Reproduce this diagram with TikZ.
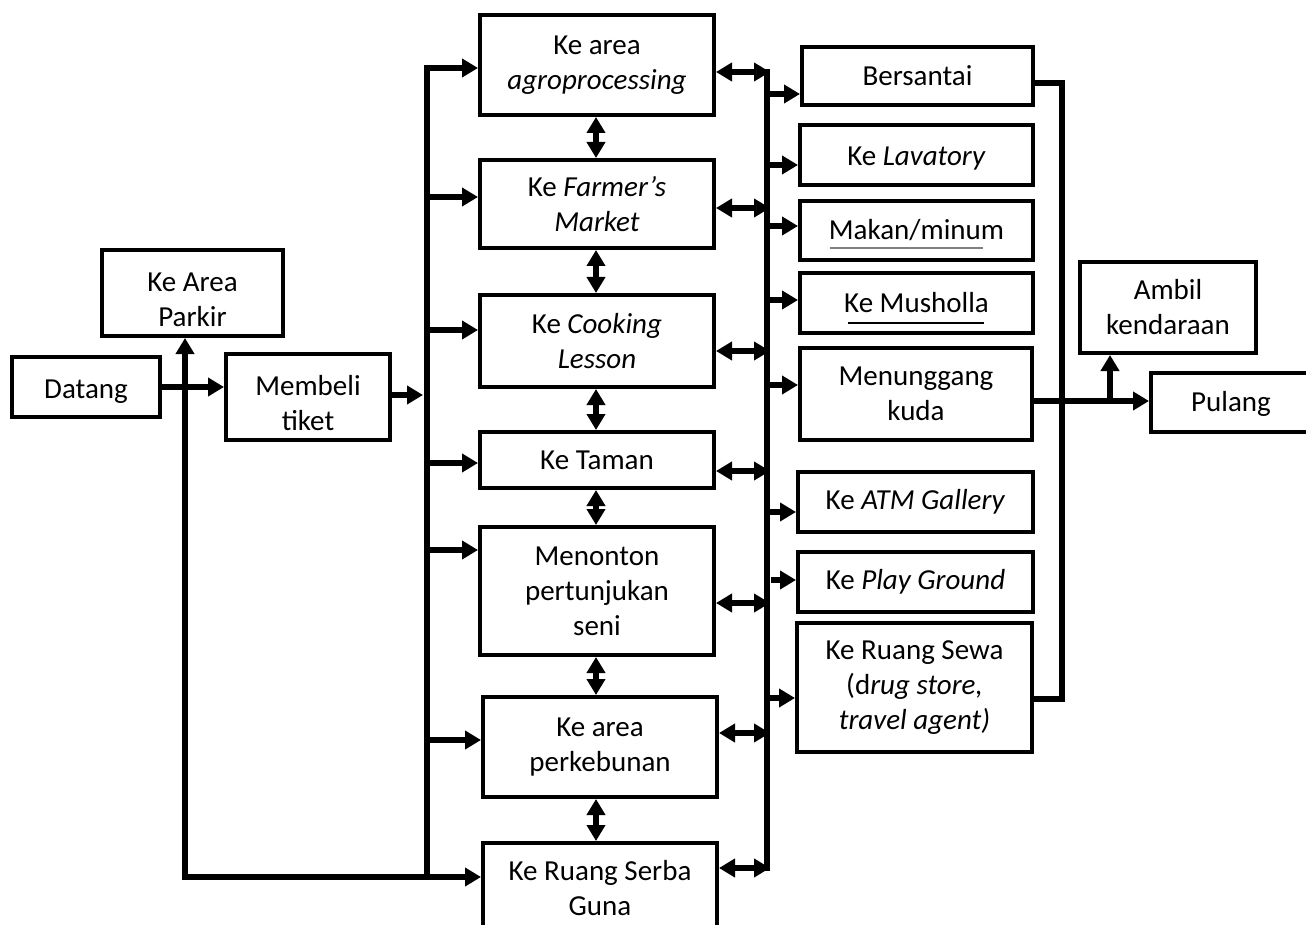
\documentclass[tikz,border=0pt]{standalone}
\usepackage{fontspec}
\setmainfont{Carlito}
\usetikzlibrary{arrows.meta}
\tikzset{
  box/.style={draw, line width=4pt, align=center, inner sep=0pt,
    font=\fontsize{29}{35}\selectfont},
  arr/.style={line width=5.2pt, -{Triangle[length=16pt,width=18pt]}},
  dbl/.style={line width=5.2pt, {Triangle[length=16pt,width=18pt]}-{Triangle[length=16pt,width=18pt]}},
  bus/.style={line width=5.2pt, line cap=rect},
  uline/.style={line width=1.2pt}
}
\newcommand{\dn}[1]{\rule{0pt}{#1}}
\begin{document}
\begin{tikzpicture}[x=1pt,y=-1pt]
\clip (0,0) rectangle (1306,925);
\fill[white] (0,0) rectangle (1306,925);
% left
\node[box, minimum width=148pt, minimum height=60pt] (datang) at (86,387) {\dn{27pt}Datang};
\node[box, minimum width=181pt, minimum height=86pt] (parkir) at (192.5,293) {\dn{33pt}Ke Area\\Parkir};
\node[box, minimum width=164pt, minimum height=86pt] (membeli) at (308,397) {\dn{33pt}Membeli\\tiket};
% middle column
\node[box, minimum width=234pt, minimum height=100pt] (agro) at (597,65) {Ke area\\\textit{agroprocessing}};
\node[box, minimum width=234pt, minimum height=88pt] (farmer) at (597,204) {Ke \textit{Farmer’s}\\\textit{Market}};
\node[box, minimum width=234pt, minimum height=92pt] (cooking) at (597,341) {Ke \textit{Cooking}\\\textit{Lesson}};
\node[box, minimum width=234pt, minimum height=56pt] (taman) at (597,460) {Ke Taman};
\node[box, minimum width=234pt, minimum height=128pt] (menonton) at (597,591) {Menonton\\pertunjukan\\seni};
\node[box, minimum width=234pt, minimum height=100pt] (kebun) at (600,747) {Ke area\\perkebunan};
\node[box, minimum width=234pt, minimum height=130pt, anchor=north] (serba) at (600,841) {};
\node[font=\fontsize{29}{35}\selectfont, align=center] (serbatxt) at (600,888) {Ke Ruang Serba\\Guna};
% right column
\node[box, minimum width=231pt, minimum height=58pt] (santai) at (917.5,76) {Bersantai};
\node[box, minimum width=233pt, minimum height=60pt] (lav) at (916.5,155) {\dn{25pt}Ke \textit{Lavatory}};
\node[box, minimum width=233pt, minimum height=59pt] (makan) at (916.5,230.5) {Makan/minum};
\node[box, minimum width=233pt, minimum height=60pt] (mushola) at (916.5,303) {Ke Musholla};
\node[box, minimum width=232pt, minimum height=92pt] (kuda) at (916,394) {Menunggang\\kuda};
\node[box, minimum width=235pt, minimum height=60pt] (atm) at (915.5,502) {Ke \textit{ATM Gallery}};
\node[box, minimum width=235pt, minimum height=60pt] (play) at (915.5,582) {Ke \textit{Play Ground}};
\node[box, minimum width=235pt, minimum height=129pt] (sewa) at (914.5,687.5) {Ke Ruang Sewa\\(d\textit{rug store,}\\\textit{travel agent)}};
% far right
\node[box, minimum width=176pt, minimum height=91pt] (ambil) at (1168,307.5) {Ambil\\kendaraan};
\node[box, minimum width=200pt, minimum height=59pt, anchor=west] (pulang) at (1149,402.5) {};
\node[font=\fontsize{29}{35}\selectfont] (pulangtxt) at (1231,404) {Pulang};
% underlines
\draw[uline, gray] (830,248) -- (983,248);
\draw[uline] (848,323) -- (984,323);

% coordinates of buses
\coordinate (Ltop) at (427,68);
\coordinate (Lbot) at (427,877);
\coordinate (Pbot) at (185,877);
\coordinate (Rtop) at (767,72);
\coordinate (Rbot) at (767,868);
\coordinate (Ftop) at (1062,83);
\coordinate (Fbot) at (1062,699);
\coordinate (K) at (1110,401);

% left part
\draw[arr] (datang.east) -- (datang.east -| membeli.west);
\draw[bus] (Pbot) -- (Lbot);
\draw[arr] (Pbot) -- (Pbot |- parkir.south);
\draw[bus] (Ltop) -- (Lbot);
\draw[arr] (membeli.east |- 0,395) -- (423,395);
\draw[arr] (Ltop) -- (Ltop -| agro.west);
\draw[arr] (427,197) -- (farmer.west |- 0,197);
\draw[arr] (427,330) -- (cooking.west |- 0,330);
\draw[arr] (427,463) -- (taman.west |- 0,463);
\draw[arr] (427,550) -- (menonton.west |- 0,550);
\draw[arr] (427,740) -- (kebun.west |- 0,740);
\draw[arr] (Lbot) -- (Lbot -| serba.west);

% middle vertical double arrows
\draw[dbl] (agro.south -| 596,0) -- (farmer.north -| 596,0);
\draw[dbl] (farmer.south -| 596,0) -- (cooking.north -| 596,0);
\draw[dbl] (cooking.south -| 596,0) -- (taman.north -| 596,0);
\draw[dbl] (taman.south -| 596,0) -- (menonton.north -| 596,0);
\draw[dbl] (menonton.south -| 596,0) -- (kebun.north -| 596,0);
\draw[dbl] (kebun.south -| 596,0) -- (serba.north -| 596,0);

% middle to right bus
\draw[bus] (Rtop) -- (Rbot);
\draw[dbl] (agro.east |- Rtop) -- (770,72);
\draw[dbl] (farmer.east |- 0,208) -- (770,208);
\draw[dbl] (cooking.east |- 0,351) -- (770,351);
\draw[dbl] (taman.east |- 0,471) -- (770,471);
\draw[dbl] (menonton.east |- 0,603) -- (770,603);
\draw[dbl] (kebun.east |- 0,733) -- (770,733);
\draw[dbl] (serba.east |- Rbot) -- (770,868);

% right bus to right column
\draw[arr] (767,94) -- (santai.west |- 0,94);
\draw[arr] (767,165) -- (lav.west |- 0,165);
\draw[arr] (767,226) -- (makan.west |- 0,226);
\draw[arr] (767,300) -- (mushola.west |- 0,300);
\draw[arr] (767,385) -- (kuda.west |- 0,385);
\draw[arr] (767,512) -- (atm.west |- 0,512);
\draw[arr] (771,580) -- (play.west |- 0,580);
\draw[arr] (767,698) -- (sewa.west |- 0,698);

% far right
\draw[bus, line cap=butt] (santai.east |- Ftop) -- (Ftop) -- (Fbot) -- (sewa.east |- Fbot);
\draw[arr] (kuda.east |- K) -- (K -| pulang.west);
\draw[arr] (K) -- (K |- ambil.south);
\end{tikzpicture}
\end{document}
